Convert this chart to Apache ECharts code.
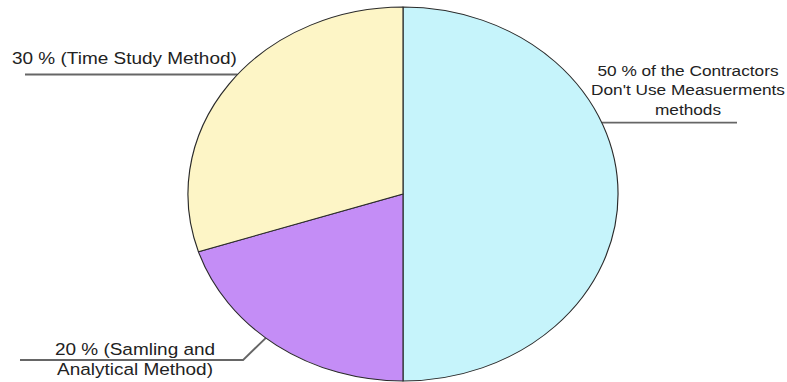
<!DOCTYPE html>
<html>
<head>
<meta charset="utf-8">
<script src="https://cdn.jsdelivr.net/npm/echarts@6/dist/echarts.min.js"></script>
<style>
html,body{margin:0;padding:0;background:#fff;overflow:hidden;width:787px;height:382px;}
#main{position:absolute;left:0;top:0;width:684.35px;height:382px;transform:scaleX(1.15);transform-origin:0 0;}
</style>
</head>
<body>
<div id="main"></div>
<script>
// Data
const categories = [
  "50 % of the Contractors\nDon't Use Measuerments\nmethods",
  "20 % (Samling and\nAnalytical Method)",
  "30 % (Time Study Method)"
];
const values = [50, 20, 30];
const colors = ['#c6f4fb', '#c48df6', '#fdf5c6'];

// Layout (unstretched coordinates; the whole picture is stretched horizontally by S)
const S = 1.15;
const CX = 403 / S, CY = 194, R = 187;
function edgeX(y, side) { return CX + side * Math.sqrt(R * R - (y - CY) * (y - CY)); }

const labelSpecs = [
  { x: 688 / S, y: 89.5, align: 'center', lineY: 122.7, side: 1, bendX: null, endX: 737 / S, size: 15, lh: 19.5 },
  { x: 135 / S, y: 359, align: 'center', lineY: 360, side: -1, edgeY: 338, bendX: 243 / S, endX: 20 / S, size: 16.5, lh: 20 },
  { x: 12 / S, y: 58, align: 'left', lineY: 74.5, side: -1, bendX: null, endX: 25 / S, size: 16.5, lh: 20 }
];

const chart = echarts.init(document.getElementById('main'), null, { renderer: 'svg' });
chart.setOption({
  backgroundColor: '#ffffff',
  animation: false,
  series: [{
    type: 'pie',
    center: [CX, CY],
    radius: R,
    startAngle: 90,
    clockwise: true,
    avoidLabelOverlap: false,
    silent: true,
    itemStyle: { borderColor: '#2a2a2a', borderWidth: 1 },
    label: {
      show: true,
      position: 'outside',
      color: '#222',
      fontFamily: 'Liberation Sans, Arial, sans-serif',
      formatter: p => p.name
    },
    labelLine: { show: true, lineStyle: { color: '#666', width: 1.8 } },
    labelLayout: function (params) {
      const sp = labelSpecs[params.dataIndex];
      const ey = sp.edgeY !== undefined ? sp.edgeY : sp.lineY;
      const ex = edgeX(ey, sp.side);
      const bx = sp.bendX !== null ? sp.bendX : ex;
      return {
        x: sp.x,
        y: sp.y,
        align: sp.align,
        verticalAlign: 'middle',
        fontSize: sp.size,
        labelLinePoints: [[ex, ey], [bx, sp.lineY], [sp.endX, sp.lineY]]
      };
    },
    data: categories.map((name, i) => ({
      name: name,
      value: values[i],
      itemStyle: { color: colors[i] },
      label: { fontSize: labelSpecs[i].size, lineHeight: labelSpecs[i].lh }
    }))
  }]
});
</script>
</body>
</html>
